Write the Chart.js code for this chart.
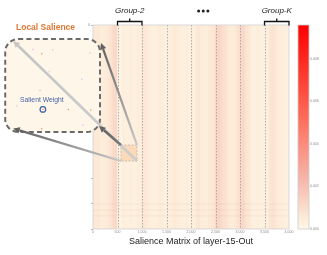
<!DOCTYPE html>
<html>
<head>
<meta charset="utf-8">
<script src="https://cdn.jsdelivr.net/npm/chart.js@4.4.1/dist/chart.umd.min.js"></script>
<style>
html,body{margin:0;padding:0;background:#fff;}
#wrap{position:relative;width:327px;height:255px;}
#wrap canvas{position:absolute;left:0;top:0;}
</style>
</head>
<body>
<div id="wrap">
<canvas id="matrix" width="327" height="255"></canvas>
<canvas id="zoom" width="327" height="255"></canvas>
</div>
<script>
Chart.defaults.font.family = "'Liberation Sans', Arial, sans-serif";

// salience matrix: 80 column blocks of 50 input channels, 4096 rows
const colWidth = 50;
const colMax = 4000;
const rowMax = 4096;
const colSalience = [
  0.00058, 0.00058, 0.00058, 0.00038, 0.00048, 0.00048, 0.00062, 0.00077, 0.00106, 0.00115,
  0.00019, 0.00019, 0.00038, 0.00029, 0.00029, 0.00038, 0.00029, 0.00029, 0.00038, 0.00038,
  0.00067, 0.00062, 0.00048, 0.00038, 0.00029, 0.00029, 0.00038, 0.00048, 0.00038, 0.00029,
  0.00029, 0.00038, 0.00048, 0.00055, 0.00048, 0.00038, 0.00029, 0.00029, 0.00038, 0.00029,
  0.00038, 0.00029, 0.00062, 0.00067, 0.00038, 0.00048, 0.00038, 0.00055, 0.00062, 0.00072,
  0.00115, 0.00125, 0.00106, 0.00086, 0.00077, 0.00055, 0.00048, 0.00048, 0.00062, 0.00086,
  0.00115, 0.00120, 0.00077, 0.00067, 0.00048, 0.00029, 0.00029, 0.00038, 0.00029, 0.00029,
  0.00029, 0.00038, 0.00072, 0.00077, 0.00072, 0.00048, 0.00038, 0.00038, 0.00029, 0.00029
];
const colCenters = colSalience.map((v, i) => i * colWidth + colWidth / 2);
// rows that show up as faint horizontal streaks
const rowStreaks = [3594, 3715, 3832];

// groups of input channels
const groupEdges = [0, 500, 1000, 1500, 2000, 2500, 3000, 3500, 4000];
const groupLabels = [
  {label: 'Group-2', from: 500, to: 1000},
  {label: 'Group-K', from: 3500, to: 4000}
];
const ellipsisAt = 2250;

// colour bar
const cbMax = 0.0096;
const cbStep = 0.002;
const colorStops = [[0, '#fff8e8'], [0.06, '#fce9d6'], [0.25, '#f6b4aa'], [0.55, '#fd6b58'], [1, '#ff0000']];

// zoomed window (local region) and the salient weights inside it
const squareWin = {x0: 571, x1: 898, y0: 2410, y1: 2731};
const dotX = [697, 666, 735, 863, 723, 835, 691, 611, 789, 866, 697, 619, 839, 701];
const dotY = [2461, 2446, 2448, 2458, 2523, 2549, 2588, 2641, 2653, 2655, 2720, 2717, 2707, 2653];
const dotKind = ['o', 'p', 'p', 'p', 'p', 'p', 'p', 'p', 'o', 'o', 'o', 'p', 'p', 'o'];
const salientWeight = {x: 701, y: 2653};

function hexRgb(h) {
  return [parseInt(h.slice(1, 3), 16), parseInt(h.slice(3, 5), 16), parseInt(h.slice(5, 7), 16)];
}
function salienceColor(v) {
  const t = Math.max(0, Math.min(1, v / cbMax));
  for (let i = 1; i < colorStops.length; i++) {
    if (t <= colorStops[i][0]) {
      const a = colorStops[i - 1], b = colorStops[i];
      const f = (t - a[0]) / (b[0] - a[0]);
      const ca = hexRgb(a[1]), cb = hexRgb(b[1]);
      return 'rgb(' + ca.map((c, k) => Math.round(c + (cb[k] - c) * f)).join(',') + ')';
    }
  }
  return colorStops[colorStops.length - 1][1];
}

const matrixDecor = {
  id: 'matrixDecor',
  afterDatasetsDraw(chart) {
    const {ctx, chartArea: a, scales: {x, y, cb}} = chart;
    ctx.save();
    // dashed group boundaries
    ctx.setLineDash([1.5, 1.5]);
    ctx.strokeStyle = '#9c9c9c';
    ctx.lineWidth = 0.8;
    groupEdges.slice(1, -1).forEach(g => {
      const px = Math.round(x.getPixelForValue(g)) + 0.5;
      ctx.beginPath(); ctx.moveTo(px, a.top); ctx.lineTo(px, a.bottom); ctx.stroke();
    });
    ctx.setLineDash([]);
    ctx.strokeStyle = '#d0d0d0';
    ctx.strokeRect(a.left, a.top, a.width, a.height);

    // highlighted local region
    const sl = x.getPixelForValue(squareWin.x0), sr = x.getPixelForValue(squareWin.x1);
    const st = y.getPixelForValue(squareWin.y0), sb = y.getPixelForValue(squareWin.y1);
    ctx.fillStyle = 'rgba(250,214,180,0.85)';
    ctx.fillRect(sl, st, sr - sl, sb - st);
    ctx.setLineDash([2, 1.5]);
    ctx.strokeStyle = '#b5b5b5';
    ctx.strokeRect(sl, st, sr - sl, sb - st);
    ctx.setLineDash([]);

    // group brackets
    ctx.strokeStyle = '#111';
    ctx.lineWidth = 1.3;
    ctx.fillStyle = '#222';
    ctx.font = 'italic 8px ' + Chart.defaults.font.family;
    ctx.textAlign = 'center';
    ctx.textBaseline = 'middle';
    groupLabels.forEach(g => {
      const x0 = x.getPixelForValue(g.from), x1 = x.getPixelForValue(g.to), xm = (x0 + x1) / 2;
      ctx.beginPath();
      ctx.moveTo(x0, a.top + 0.5); ctx.lineTo(x0, a.top - 3.5); ctx.lineTo(x1, a.top - 3.5); ctx.lineTo(x1, a.top + 0.5);
      ctx.moveTo(xm, a.top - 3.5); ctx.lineTo(xm, a.top - 6.5);
      ctx.stroke();
      ctx.fillText(g.label, xm, 10.5);
    });
    const ex = x.getPixelForValue(ellipsisAt);
    [-4.6, 0, 4.6].forEach(d => {
      ctx.beginPath(); ctx.arc(ex + d, 11, 1.5, 0, Math.PI * 2); ctx.fill();
    });

    // local salience caption
    ctx.fillStyle = '#dc7833';
    ctx.font = 'bold 8.5px ' + Chart.defaults.font.family;
    ctx.textAlign = 'left';
    ctx.fillText('Local Salience', 16, 27.5);

    // colour bar
    const cTop = cb.getPixelForValue(cbMax), cBot = cb.getPixelForValue(0);
    const grad = ctx.createLinearGradient(0, cBot, 0, cTop);
    colorStops.forEach(s => grad.addColorStop(s[0], s[1]));
    ctx.fillStyle = grad;
    ctx.fillRect(298, cTop, 11, cBot - cTop);
    ctx.strokeStyle = '#cccccc';
    ctx.lineWidth = 0.8;
    ctx.strokeRect(298, cTop, 11, cBot - cTop);
    ctx.restore();
  }
};

const matrixChart = new Chart(document.getElementById('matrix'), {
  type: 'bar',
  data: {
    datasets: [
      {
        type: 'bar',
        data: colCenters.map(c => ({x: c, y: [0, rowMax]})),
        backgroundColor: colSalience.map(salienceColor),
        barPercentage: 1,
        categoryPercentage: 1,
        borderWidth: 0,
        order: 2
      },
      ...rowStreaks.map(r => ({
        type: 'line',
        data: [{x: 0, y: r}, {x: colMax, y: r}],
        borderColor: 'rgba(190,110,100,0.12)',
        borderWidth: 0.7,
        pointRadius: 0,
        order: 1
      }))
    ]
  },
  options: {
    responsive: false,
    animation: false,
    devicePixelRatio: 1,
    layout: {padding: {left: 83, top: 25, right: 0, bottom: 0}},
    plugins: {legend: {display: false}, tooltip: {enabled: false}},
    scales: {
      x: {
        type: 'linear', min: 0, max: colMax, offset: false,
        grid: {display: false, drawTicks: false, offset: false},
        border: {display: false},
        ticks: {stepSize: 500, autoSkip: false, maxRotation: 0, padding: 1, color: '#8a8a8a', font: {size: 3.5}},
        title: {display: true, text: 'Salience Matrix of layer-15-Out', color: '#222', font: {size: 9}, padding: {top: 0, bottom: 8}},
        afterFit: s => { s.height = 26; }
      },
      y: {
        type: 'linear', min: 0, max: rowMax, reverse: true,
        grid: {drawOnChartArea: false, drawTicks: true, tickLength: 2, color: '#bdbdbd'},
        border: {display: false},
        ticks: {stepSize: 500, padding: 1, color: '#8a8a8a', font: {size: 3.5},
          callback: v => (v % 500 === 0 ? v : '')},
        afterFit: s => { s.width = 10; }
      },
      cb: {
        axis: 'y', type: 'linear', position: 'right', min: 0, max: cbMax,
        grid: {display: false, drawTicks: false},
        border: {display: false},
        ticks: {stepSize: cbStep, padding: 21, color: '#8a8a8a', font: {size: 3.5},
          callback: (v, i, arr) => (i === arr.length - 1 ? '' : v.toFixed(3))},
        afterFit: s => { s.width = 38; }
      }
    }
  },
  plugins: [matrixDecor]
});

function roundRect(ctx, l, t, r, b, rad) {
  ctx.beginPath();
  ctx.moveTo(l + rad, t);
  ctx.arcTo(r, t, r, b, rad);
  ctx.arcTo(r, b, l, b, rad);
  ctx.arcTo(l, b, l, t, rad);
  ctx.arcTo(l, t, r, t, rad);
  ctx.closePath();
}

function arrow(ctx, x0, y0, x1, y1, width, c0, c1) {
  const ang = Math.atan2(y1 - y0, x1 - x0);
  const head = 6.5, half = 3.2;
  const bx = x1 - Math.cos(ang) * head, by = y1 - Math.sin(ang) * head;
  const g = ctx.createLinearGradient(x0, y0, x1, y1);
  g.addColorStop(0, c0); g.addColorStop(1, c1);
  ctx.strokeStyle = g; ctx.fillStyle = g;
  ctx.lineWidth = width;
  ctx.beginPath(); ctx.moveTo(x0, y0); ctx.lineTo(bx, by); ctx.stroke();
  ctx.beginPath();
  ctx.moveTo(x1, y1);
  ctx.lineTo(bx + Math.sin(ang) * half, by - Math.cos(ang) * half);
  ctx.lineTo(bx - Math.sin(ang) * half, by + Math.cos(ang) * half);
  ctx.closePath(); ctx.fill();
}

const zoomDecor = {
  id: 'zoomDecor',
  beforeDatasetsDraw(chart) {
    const {ctx, chartArea: a} = chart;
    ctx.save();
    roundRect(ctx, a.left, a.top, a.right, a.bottom, 13);
    ctx.fillStyle = '#fdf6e9';
    ctx.fill();
    ctx.restore();
  },
  afterDraw(chart) {
    const {ctx, chartArea: a, scales: {x, y}} = chart;
    ctx.save();
    // salient weight caption
    const px = x.getPixelForValue(salientWeight.x), py = y.getPixelForValue(salientWeight.y);
    ctx.fillStyle = '#4766a8';
    ctx.font = '6.8px ' + Chart.defaults.font.family;
    ctx.textAlign = 'center';
    ctx.textBaseline = 'middle';
    ctx.fillText('Salient Weight', px - 1, py - 9);
    // dashed frame
    roundRect(ctx, a.left, a.top, a.right, a.bottom, 13);
    ctx.setLineDash([5, 3.2]);
    ctx.strokeStyle = '#6b6b6b';
    ctx.lineWidth = 2;
    ctx.stroke();
    ctx.setLineDash([]);
    // arrows from the highlighted region in the matrix
    const mx = matrixChart.scales.x, my = matrixChart.scales.y;
    const sl = mx.getPixelForValue(squareWin.x0), sr = mx.getPixelForValue(squareWin.x1);
    const st = my.getPixelForValue(squareWin.y0), sb = my.getPixelForValue(squareWin.y1);
    arrow(ctx, sr, sb, a.left + 8, a.top + 2, 2.6, '#cdcdcd', '#c4c4c4');
    arrow(ctx, sr, st, a.right + 1, a.top + 4, 2.2, '#c9c9c9', '#5e5e5e');
    arrow(ctx, sl, sb, a.left + 8, a.bottom - 3.5, 2.2, '#c9c9c9', '#5e5e5e');
    arrow(ctx, sl, st, a.right - 1, a.bottom - 6, 2.4, '#7a7a7a', '#5e5e5e');
    ctx.restore();
  }
};

new Chart(document.getElementById('zoom'), {
  type: 'scatter',
  data: {
    datasets: [
      {
        data: dotX.map((v, i) => ({x: v, y: dotY[i]})),
        pointRadius: 0.75,
        borderWidth: 0,
        backgroundColor: dotKind.map(k => (k === 'o' ? 'rgba(238,122,60,0.85)' : 'rgba(238,150,240,0.7)'))
      },
      {
        data: [salientWeight],
        pointRadius: 2.8,
        borderWidth: 1.2,
        borderColor: '#3d5fa6',
        backgroundColor: 'rgba(0,0,0,0)'
      }
    ]
  },
  options: {
    responsive: false,
    animation: false,
    devicePixelRatio: 1,
    layout: {padding: {left: 5, top: 39, right: 227, bottom: 123}},
    plugins: {legend: {display: false}, tooltip: {enabled: false}},
    scales: {
      x: {type: 'linear', display: false, min: squareWin.x0, max: squareWin.x1},
      y: {type: 'linear', display: false, min: squareWin.y0, max: squareWin.y1, reverse: true}
    }
  },
  plugins: [zoomDecor]
});
</script>
</body>
</html>
